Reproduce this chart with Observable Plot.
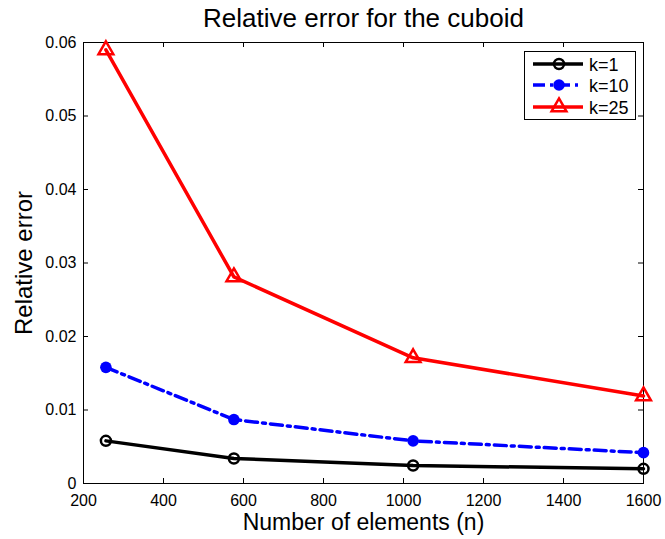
<!DOCTYPE html>
<html>
<head>
<meta charset="utf-8">
<script src="https://cdn.jsdelivr.net/npm/d3@7"></script>
<script src="https://cdn.jsdelivr.net/npm/@observablehq/plot@0.6"></script>
<style>
  html, body { margin: 0; padding: 0; background: white; }
  #wrap { position: relative; width: 665px; height: 539px; font-family: "Liberation Sans", Arial, sans-serif; }
  #legend { position: absolute; left: 524px; top: 51px; }
</style>
</head>
<body>
<div id="wrap"></div>
<script>
// ---- data ----
const elements = [256, 576, 1024, 1600];
const errK1  = [0.0058, 0.0034, 0.00245, 0.0020];
const errK10 = [0.0158, 0.0087, 0.0058, 0.0042];
const errK25 = [0.0590, 0.0281, 0.0171, 0.0119];
const seriesNames = ["k=1", "k=10", "k=25"];
const xTicks = [200, 400, 600, 800, 1000, 1200, 1400, 1600];
const yTicks = [0, 0.01, 0.02, 0.03, 0.04, 0.05, 0.06];
const yTickLabels = ["0", "0.01", "0.02", "0.03", "0.04", "0.05", "0.06"];
const titleText = "Relative error for the cuboid";
const xLabel = "Number of elements (n)";
const yLabel = "Relative error";

const rows = (vals) => elements.map((n, i) => ({n, e: vals[i]}));
const d1 = rows(errK1), d10 = rows(errK10), d25 = rows(errK25);

const W = 665, H = 539, mL = 83, mR = 22, mT = 42, mB = 56;
const pw = W - mL - mR, ph = H - mT - mB;
const tick = 5;

const plot = Plot.plot({
  width: W, height: H,
  marginLeft: mL, marginRight: mR, marginTop: mT, marginBottom: mB,
  style: {fontFamily: "'Liberation Sans', Arial, sans-serif", background: "white", color: "black", overflow: "visible"},
  x: {domain: [200, 1600], nice: false},
  y: {domain: [0, 0.06], nice: false},
  marks: [
    // inward ticks on all four sides
    Plot.tickX(xTicks, {x: d => d, insetTop: ph - tick, stroke: "black", strokeWidth: 1}),
    Plot.tickX(xTicks, {x: d => d, insetBottom: ph - tick, stroke: "black", strokeWidth: 1}),
    Plot.tickY(yTicks, {y: d => d, insetRight: pw - tick, stroke: "black", strokeWidth: 1}),
    Plot.tickY(yTicks, {y: d => d, insetLeft: pw - tick, stroke: "black", strokeWidth: 1}),
    Plot.axisX({ticks: xTicks, tickSize: 0, tickPadding: 11, fontSize: 16, label: null, tickFormat: d => String(d)}),
    Plot.axisY({ticks: yTicks, tickSize: 0, tickPadding: 7, fontSize: 16, label: null, tickFormat: d => yTickLabels[yTicks.indexOf(d)]}),
    Plot.frame({stroke: "black", strokeWidth: 1}),
    // series
    Plot.line(d1, {x: "n", y: "e", stroke: "black", strokeWidth: 3.5}),
    Plot.dot(d1, {x: "n", y: "e", r: 5, stroke: "black", strokeWidth: 2.5, fill: "none"}),
    Plot.line(d10, {x: "n", y: "e", stroke: "blue", strokeWidth: 3.5, strokeDasharray: "12,5,3,5"}),
    Plot.dot(d10, {x: "n", y: "e", r: 5.8, fill: "blue", stroke: "none"}),
    Plot.line(d25, {x: "n", y: "e", stroke: "red", strokeWidth: 3.5}),
    Plot.dot(d25, {x: "n", y: "e", symbol: "triangle", r: 5.5, stroke: "red", strokeWidth: 2.5, fill: "none"}),
    // titles
    Plot.text([titleText], {frameAnchor: "top", dy: -24, textAnchor: "middle", lineAnchor: "middle", fontSize: 26, fill: "black"}),
    Plot.text([xLabel], {frameAnchor: "bottom", dy: 39, textAnchor: "middle", lineAnchor: "middle", fontSize: 23, fill: "black"}),
    Plot.text([yLabel], {frameAnchor: "left", dx: -59, rotate: -90, textAnchor: "middle", lineAnchor: "middle", fontSize: 24, fill: "black"})
  ]
});

const wrap = document.getElementById("wrap");
wrap.appendChild(plot);

// ---- legend ----
const ns = "http://www.w3.org/2000/svg";
const lg = document.createElementNS(ns, "svg");
lg.setAttribute("id", "legend");
lg.setAttribute("width", 112);
lg.setAttribute("height", 69);
const styles = [
  {stroke: "black", dash: null, marker: "circle"},
  {stroke: "blue", dash: "12,5,3,5", marker: "dot"},
  {stroke: "red", dash: null, marker: "triangle"}
];
let html = `<rect x="0.5" y="0.5" width="111" height="68" fill="white" stroke="black" stroke-width="1"/>`;
const rowsY = [13, 34, 56];
seriesNames.forEach((name, i) => {
  const s = styles[i], y = rowsY[i];
  html += `<line x1="9" x2="59" y1="${y}" y2="${y}" stroke="${s.stroke}" stroke-width="3.5" ${s.dash ? `stroke-dasharray="${s.dash}"` : ""}/>`;
  if (s.marker === "circle") html += `<circle cx="35" cy="${y}" r="5" fill="none" stroke="black" stroke-width="2.5"/>`;
  if (s.marker === "dot") html += `<circle cx="35" cy="${y}" r="5.8" fill="blue"/>`;
  if (s.marker === "triangle") {
    const sym = d3.symbol(d3.symbolTriangle, Math.PI * 5.5 * 5.5)();
    html += `<path transform="translate(35,${y})" d="${sym}" fill="none" stroke="red" stroke-width="2.5"/>`;
  }
  html += `<text x="65" y="${y + 6.5}" font-size="18" font-family="'Liberation Sans', Arial, sans-serif" fill="black">${name}</text>`;
});
lg.innerHTML = html;
wrap.appendChild(lg);
</script>
</body>
</html>
